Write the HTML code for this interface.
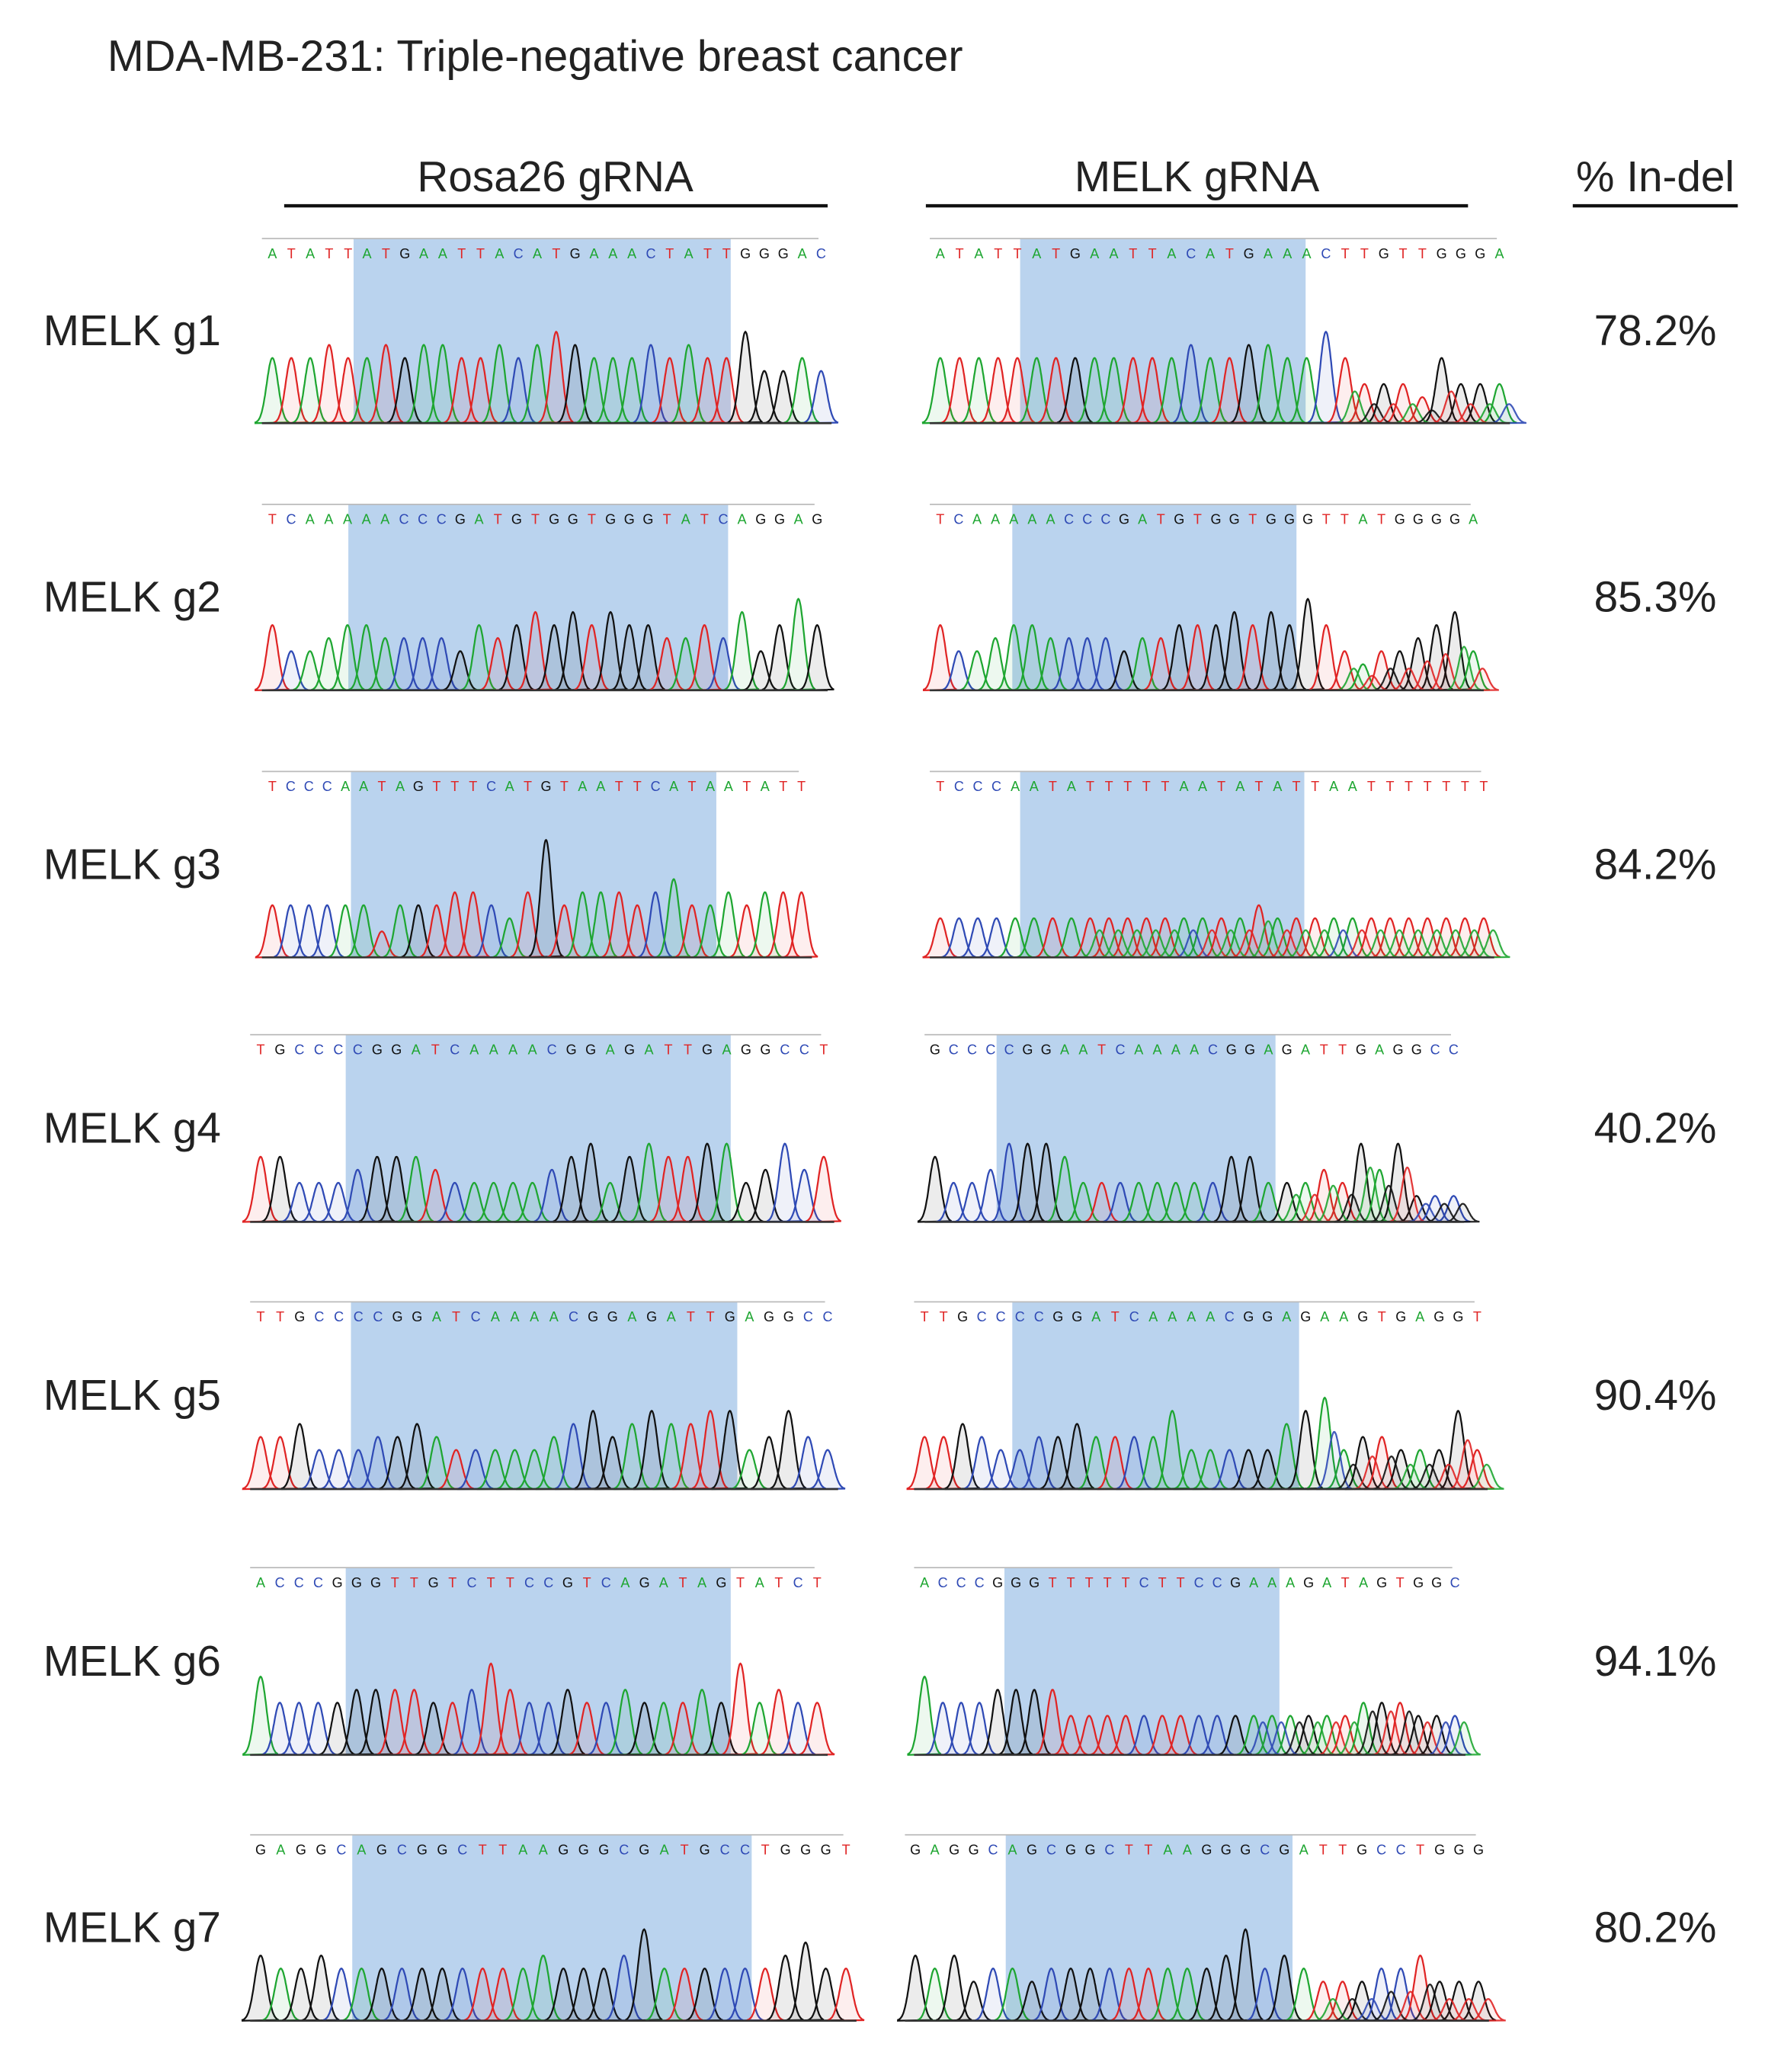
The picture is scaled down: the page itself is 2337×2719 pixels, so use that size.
<!DOCTYPE html>
<html><head><meta charset="utf-8"><style>
html,body{margin:0;padding:0;background:#fff}
svg{display:block}
text{font-family:"Liberation Sans",sans-serif}
</style></head><body>
<svg id="fig" width="2337" height="2719" viewBox="0 0 1360 1582" xmlns="http://www.w3.org/2000/svg">
<text x="82" y="54" font-size="33.5" fill="#222">MDA-MB-231: Triple-negative breast cancer</text>
<text x="424" y="146" font-size="33" text-anchor="middle" fill="#222">Rosa26 gRNA</text>
<line x1="217" x2="632" y1="157" y2="157" stroke="#111" stroke-width="2.5"/>
<text x="914" y="146" font-size="33" text-anchor="middle" fill="#222">MELK gRNA</text>
<line x1="707" x2="1121" y1="157" y2="157" stroke="#111" stroke-width="2.5"/>
<text x="1264" y="146" font-size="33" text-anchor="middle" fill="#222">% In-del</text>
<line x1="1201" x2="1327" y1="157" y2="157" stroke="#111" stroke-width="2.5"/>
<g id="rows"></g>
</svg>
<script>
const rowLabels=["MELK g1","MELK g2","MELK g3","MELK g4","MELK g5","MELK g6","MELK g7"];
const indelValues=["78.2%","85.3%","84.2%","40.2%","90.4%","94.1%","80.2%"];
const seqL=["ATATTATGAATTACATGAAACTATTGGGAC","TCAAAAACCCGATGTGGTGGGTATCAGGAG","TCCCAATAGTTTCATGTAATTCATAATATT","TGCCCCGGATCAAAACGGAGATTGAGGCCT","TTGCCCCGGATCAAAACGGAGATTGAGGCC","ACCCGGGTTGTCTTCCGTCAGATAGTATCT","GAGGCAGCGGCTTAAGGGCGATGCCTGGGT"];
const seqR=["ATATTATGAATTACATGAAACTTGTTGGGA","TCAAAAACCCGATGTGGTGGGTTATGGGGA","TCCCAATATTTTTAATATATTAATTTTTTT","GCCCCGGAATCAAAACGGAGATTGAGGCC","TTGCCCCGGATCAAAACGGAGAAGTGAGGT","ACCCGGGTTTTTCTTCCGAAAGATAGTGGC","GAGGCAGCGGCTTAAGGGCGATTGCCTGGG"];
const heightsL=[
[5,5,5,6,5,5,6,5,6,6,5,5,6,5,6,7,6,5,5,5,6,5,6,5,5,7,4,4,5,4],
[5,3,3,4,5,5,4,4,4,4,3,5,4,5,6,5,6,5,6,5,5,4,4,5,4,6,3,5,7,5],
[4,4,4,4,4,4,2,4,4,4,5,5,4,3,5,9,4,5,5,5,4,5,6,4,4,5,4,5,5,5],
[5,5,3,3,3,4,5,5,5,4,3,3,3,3,3,4,5,6,3,5,6,5,5,6,6,3,4,6,4,5],
[4,4,5,3,3,3,4,4,5,4,3,3,3,3,3,4,5,6,4,5,6,5,5,6,6,3,4,6,4,3],
[6,4,4,4,4,5,5,5,5,4,4,5,7,5,4,4,5,4,4,5,4,4,4,5,4,7,4,5,4,4],
[5,4,4,5,4,4,4,4,4,4,4,4,4,4,5,4,4,4,5,7,4,4,4,4,4,4,5,6,4,4]];
const heightsR=[
[5,5,5,5,5,5,5,5,5,5,5,5,5,6,5,5,6,6,5,5,7,5,3,3,3,2,5,3,3,3],
[5,3,3,4,5,5,4,4,4,4,3,4,4,5,5,5,6,5,6,5,7,5,3,2,3,3,4,5,6,3],
[3,3,3,3,3,3,3,3,3,3,3,3,3,3,3,3,3,4,3,3,3,3,3,3,3,3,3,3,3,3],
[5,3,3,4,6,6,6,5,3,3,3,3,3,3,3,3,5,5,3,3,3,4,3,6,4,6,2,2,2],
[4,4,5,4,3,3,4,4,5,4,4,4,4,6,3,3,3,3,3,5,6,7,3,4,4,3,3,3,6,3],
[6,4,4,4,5,5,5,5,3,3,3,3,3,3,3,3,3,3,3,3,3,3,3,3,4,4,4,3,3,3],
[5,4,5,3,4,4,3,4,4,4,4,4,4,4,4,4,5,7,4,5,4,3,3,3,4,4,5,3,3,3]];
const mixR=[0.35,0.4,0.5,0.5,0.45,0.6,0.4];
const cutR=[21,22,8,19,21,18,21];
const blueL=[[270,558],[266,556],[268,547],[264,558],[268,563],[264,558],[269,574]];
const blueR=[[779,997],[773,990],[779,996],[761,974],[773,992],[767,977],[768,987]];
const panelL=[[200,635],[200,632],[200,620],[191,637],[191,640],[191,632],[191,654]];
const panelR=[[710,1153],[710,1133],[710,1141],[706,1118],[698,1136],[698,1119],[691,1137]];
const tops=[182,385,589,790,994,1197,1401];
const bases=[323,527,731,933,1137,1340,1543];
const NS="http://www.w3.org/2000/svg";
const col={A:"#1ea631",C:"#2f4ab5",G:"#111111",T:"#e02424"};
const root=document.getElementById('rows');
function mk(tag,attrs){const e=document.createElementNS(NS,tag);for(const k in attrs)e.setAttribute(k,attrs[k]);return e;}
function peak(g,cx,h,sig,base,c,op){
  let d="M"+(cx-3*sig)+","+base;
  for(let k=-30;k<=30;k++){const x=cx+k*sig/10;d+=" L"+x.toFixed(1)+","+(base-h*Math.exp(-(k/10)*(k/10)/2)).toFixed(1);}
  d+=" Z";
  const p=mk('path',{d:d,fill:c,'fill-opacity':0.08*op,stroke:c,'stroke-width':1.3,'stroke-opacity':op});
  
  
  g.appendChild(p);
}
function panel(r,side,seq,hts,pan,blue,mix,cut){
  const g=mk('g',{});
  
  
  root.appendChild(g);
  const top=tops[r],base=bases[r];
  const br=mk('rect',{x:blue[0],y:top,width:blue[1]-blue[0],height:base-top,fill:'#bad3ee'});
  
  
  g.appendChild(br);
  const tl=mk('line',{x1:pan[0],x2:pan[1]-10,y1:top,y2:top,stroke:'#bbb','stroke-width':1});
  
  
  g.appendChild(tl);
  const n=seq.length,sp=(pan[1]-pan[0]-16)/(n-1);
  const xs=i=>pan[0]+8+i*sp;
  for(let i=0;i<n;i++){
    const t=mk('text',{x:xs(i),y:top+15,'font-size':10.5,'text-anchor':'middle',fill:col[seq[i]]});
    t.textContent=seq[i];
    
    
    g.appendChild(t);
  }
  const unit=78/9;
  for(let i=0;i<n;i++){peak(g,xs(i),hts[i]*unit*1.15,sp*0.3,base,col[seq[i]],1);}
  if(mix){
    const order="ACGT";
    for(let i=cut;i<n;i++){
      const b=seq[(i+1)%n]===seq[i]?order[(order.indexOf(seq[i])+1)%4]:seq[(i+1)%n];
      peak(g,xs(i)+sp*0.5,hts[i]*unit*mix*1.6,sp*0.3,base,col[b],0.9);
    }
  }
  const bl=mk('line',{x1:pan[0],x2:pan[1],y1:base,y2:base,stroke:'#333','stroke-width':1.5});
  
  
  g.appendChild(bl);
}
for(let r=0;r<7;r++){
  const cy=(tops[r]+bases[r])/2;
  const lab=mk('text',{x:33,y:cy+11,'font-size':33,fill:'#222'});
  lab.textContent=rowLabels[r];
  
  
  root.appendChild(lab);
  const pv=mk('text',{x:1264,y:cy+11,'font-size':33,'text-anchor':'middle',fill:'#222'});
  pv.textContent=indelValues[r];
  
  
  root.appendChild(pv);
  panel(r,'rosa26',seqL[r],heightsL[r],panelL[r],blueL[r],0,0);
  panel(r,'melk',seqR[r],heightsR[r],panelR[r],blueR[r],mixR[r],cutR[r]);
}
</script>
</body></html>
